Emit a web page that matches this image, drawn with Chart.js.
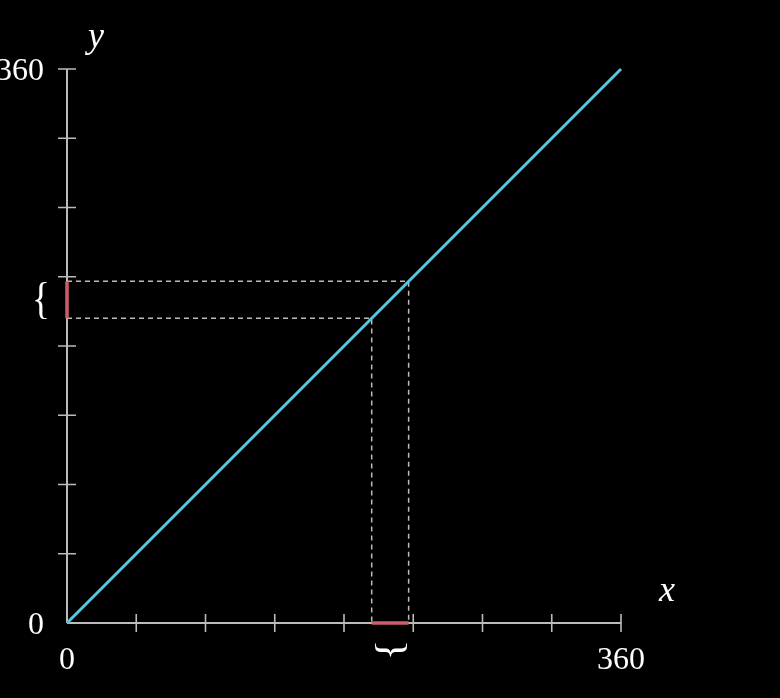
<!DOCTYPE html>
<html>
<head>
<meta charset="utf-8">
<script src="https://cdn.jsdelivr.net/npm/chart.js@4"></script>
<style>
html,body{margin:0;padding:0;background:#000;}
#wrap{width:780px;height:698px;}
</style>
</head>
<body>
<div id="wrap"><canvas id="c" width="780" height="698"></canvas></div>
<script>
// ---- data ----
const axisMin = 0;
const axisMax = 360;
const tickValues = [0, 45, 90, 135, 180, 225, 270, 315, 360];
const xTickLabels = ['0', '360'];
const yTickLabels = ['0', '360'];
const lineX = [0, 360];
const lineY = [0, 360];
const intervalLow = 198;
const intervalHigh = 222;
const axisTitles = ['x', 'y'];

const CYAN = '#58C4DD';
const RED = '#CF5C6C';
const AXIS = '#BBBBBB';
const DASH = '#BBBBBB';
const SERIF = '"Liberation Serif", "DejaVu Serif", serif';

const mainLine = lineX.map((x, i) => ({x: x, y: lineY[i]}));
const dashDS = (pts) => ({
  data: pts, borderColor: DASH, borderWidth: 1.5, borderDash: [5, 4],
  pointRadius: 0, fill: false, clip: false, order: 3
});

const axesPlugin = {
  id: 'axes',
  beforeDatasetsDraw(chart) {
    const ctx = chart.ctx;
    const xs = chart.scales.x, ys = chart.scales.y;
    const x0 = xs.getPixelForValue(axisMin), x1 = xs.getPixelForValue(axisMax);
    const y0 = ys.getPixelForValue(axisMin), y1 = ys.getPixelForValue(axisMax);
    ctx.save();
    ctx.strokeStyle = AXIS;
    ctx.lineWidth = 2;
    ctx.beginPath();
    ctx.moveTo(x0, y0); ctx.lineTo(x1, y0);
    ctx.moveTo(x0, y0); ctx.lineTo(x0, y1);
    ctx.stroke();
    ctx.lineWidth = 1.6;
    ctx.beginPath();
    tickValues.forEach(v => {
      if (v === 0) return;
      const px = xs.getPixelForValue(v);
      ctx.moveTo(px, y0 - 9); ctx.lineTo(px, y0 + 9);
      const py = ys.getPixelForValue(v);
      ctx.moveTo(x0 - 9, py); ctx.lineTo(x0 + 9, py);
    });
    ctx.stroke();
    ctx.restore();
  },
  afterDatasetsDraw(chart) {
    const ctx = chart.ctx;
    const xs = chart.scales.x, ys = chart.scales.y;
    const x0 = xs.getPixelForValue(axisMin), x1 = xs.getPixelForValue(axisMax);
    const y0 = ys.getPixelForValue(axisMin), y1 = ys.getPixelForValue(axisMax);
    ctx.save();
    ctx.fillStyle = '#FFFFFF';
    ctx.font = '32px ' + SERIF;
    // x tick labels
    ctx.textAlign = 'center';
    ctx.textBaseline = 'alphabetic';
    ctx.fillText(xTickLabels[0], x0, y0 + 46);
    ctx.fillText(xTickLabels[1], x1, y0 + 46);
    // y tick labels
    ctx.textAlign = 'right';
    ctx.fillText(yTickLabels[0], x0 - 23, y0 + 11);
    ctx.fillText(yTickLabels[1], x0 - 23, y1 + 11);
    // axis titles
    ctx.font = 'italic 36px ' + SERIF;
    ctx.textAlign = 'center';
    ctx.fillText(axisTitles[0], x1 + 46, y0 - 22);
    ctx.fillText(axisTitles[1], x0 + 29, y1 - 22);
    // braces
    const ya = ys.getPixelForValue(intervalHigh), yb = ys.getPixelForValue(intervalLow);
    const xa = xs.getPixelForValue(intervalLow), xb = xs.getPixelForValue(intervalHigh);
    ctx.font = '44px ' + SERIF;
    ctx.textAlign = 'center';
    ctx.textBaseline = 'middle';
    ctx.save();
    ctx.translate(x0 - 26, (ya + yb) / 2);
    ctx.scale(0.85, 1);
    ctx.fillText('{', 0, 2);
    ctx.restore();
    ctx.translate((xa + xb) / 2, y0 + 27);
    ctx.rotate(Math.PI / 2);
    ctx.scale(1, 0.85);
    ctx.fillText('}', 0, 0);
    ctx.restore();
  }
};

new Chart(document.getElementById('c'), {
  type: 'line',
  data: {
    datasets: [
      {data: mainLine, borderColor: CYAN, borderWidth: 3, pointRadius: 0, fill: false, clip: false, order: 1},
      dashDS([{x: axisMin, y: intervalHigh}, {x: intervalHigh, y: intervalHigh}, {x: intervalHigh, y: axisMin}]),
      dashDS([{x: axisMin, y: intervalLow}, {x: intervalLow, y: intervalLow}, {x: intervalLow, y: axisMin}]),
      {data: [{x: intervalLow, y: axisMin}, {x: intervalHigh, y: axisMin}], borderColor: RED, borderWidth: 3.5, pointRadius: 0, clip: false, order: 2},
      {data: [{x: axisMin, y: intervalLow}, {x: axisMin, y: intervalHigh}], borderColor: RED, borderWidth: 3.5, pointRadius: 0, clip: false, order: 2}
    ]
  },
  options: {
    responsive: false,
    animation: false,
    events: [],
    layout: {padding: {left: 67, right: 159, top: 69, bottom: 75}},
    plugins: {legend: {display: false}, tooltip: {enabled: false}},
    scales: {
      x: {type: 'linear', min: axisMin, max: axisMax, display: false},
      y: {type: 'linear', min: axisMin, max: axisMax, display: false}
    }
  },
  plugins: [axesPlugin]
});
</script>
</body>
</html>
